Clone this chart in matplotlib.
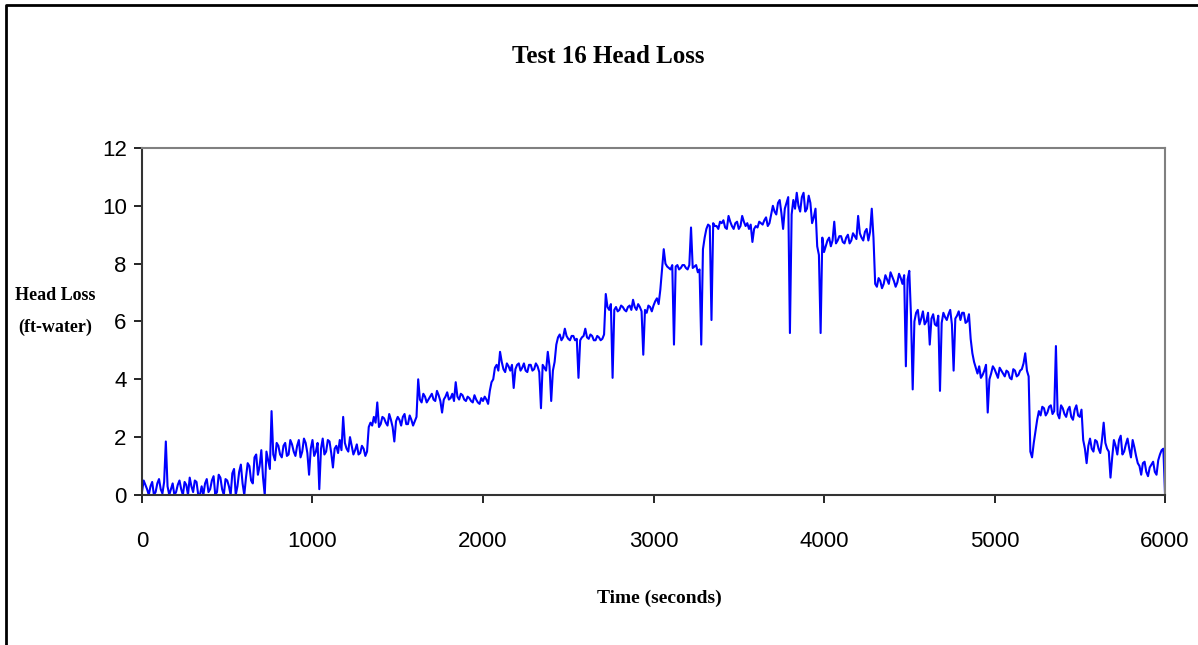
import matplotlib
matplotlib.use('Agg')
import matplotlib.pyplot as plt
import numpy as np

# head loss, samples on the even 20 s marks
head_loss = [
    0.1, 0.35, 0.0, 0.45, 0.1, 0.55, 0.05, 1.85, 0.0, 0.4,        # 0-180
    0.1, 0.5, 0.0, 0.35, 0.6, 0.1, 0.45, 0.0, 0.0, 0.55,          # 200-380
    0.2, 0.65, 0.1, 0.6, 0.0, 0.5, 0.0, 0.9, 0.3, 1.05,           # 400-580
    0.0, 1.1, 0.5, 1.3, 0.7, 1.55, 0.0, 1.2, 2.9, 1.2,            # 600-780
    1.7, 1.3, 1.8, 1.4, 1.75, 1.35, 1.9, 1.5, 1.8, 0.7,           # 800-980
    1.9, 1.5, 0.2, 1.95, 1.5, 1.85, 0.95, 1.7, 1.9, 2.7,          # 1000-1180
    1.6, 2.0, 1.4, 1.75, 1.45, 1.6, 1.5, 2.5, 2.7, 3.2,           # 1200-1380
    2.45, 2.65, 2.4, 2.6, 1.85, 2.7, 2.4, 2.8, 2.45, 2.6,         # 1400-1580
    2.55, 4.0, 3.2, 3.4, 3.3, 3.5, 3.25, 3.45, 2.85, 3.4,         # 1600-1780
    3.3, 3.5, 3.9, 3.3, 3.45, 3.25, 3.35, 3.2, 3.3, 3.15,         # 1800-1980
    3.25, 3.3, 3.6, 4.0, 4.5, 4.95, 4.35, 4.55, 4.3, 3.7,         # 2000-2180
    4.5, 4.3, 4.55, 4.25, 4.5, 4.35, 4.45, 3.0, 4.4, 4.95,        # 2200-2380
    3.25, 4.6, 5.45, 5.35, 5.75, 5.4, 5.5, 5.35, 4.05, 5.45,      # 2400-2580
    5.75, 5.4, 5.5, 5.35, 5.45, 5.4, 6.95, 6.4, 4.05, 6.5,        # 2600-2780
    6.4, 6.5, 6.35, 6.55, 6.75, 6.4, 6.5, 4.85, 6.3, 6.5,         # 2800-2980
    6.55, 6.8, 7.1, 8.5, 7.9, 7.8, 5.2, 7.95, 7.85, 7.95,         # 3000-3180
    7.8, 9.25, 7.9, 7.7, 5.2, 8.9, 9.35, 6.05, 9.3, 9.2,          # 3200-3380
    9.4, 9.25, 9.65, 9.3, 9.4, 9.2, 9.65, 9.3, 9.2, 8.75,         # 3400-3580
    9.3, 9.45, 9.35, 9.6, 9.4, 10.0, 9.7, 10.2, 9.2, 10.1,        # 3600-3780
    5.6, 10.2, 10.45, 9.8, 10.45, 9.9, 10.1, 9.6, 8.6, 5.6,       # 3800-3980
    8.4, 8.8, 8.6, 9.45, 8.8, 8.95, 8.7, 9.0, 8.8, 8.95,          # 4000-4180
    9.65, 8.9, 9.1, 8.8, 9.9, 7.3, 7.5, 7.15, 7.6, 7.3,           # 4200-4380
    7.55, 7.2, 7.65, 7.3, 4.45, 7.75, 3.65, 6.3, 5.9, 6.35,       # 4400-4580
    6.0, 5.2, 6.25, 5.85, 3.6, 6.3, 6.05, 6.4, 4.3, 6.2,          # 4600-4780
    6.05, 6.3, 6.0, 5.4, 4.6, 4.2, 4.05, 4.3, 2.85, 4.2,          # 4800-4980
    4.35, 4.05, 4.3, 4.1, 4.25, 4.0, 4.3, 4.15, 4.35, 4.9,        # 5000-5180
    4.1, 1.3, 2.2, 2.9, 3.05, 2.75, 3.05, 2.8, 5.15, 2.65,        # 5200-5380
    3.0, 2.7, 3.05, 2.6, 3.1, 2.7, 1.9, 1.1, 1.95, 1.5,           # 5400-5580
    1.85, 1.45, 2.5, 1.6, 0.6, 1.9, 1.4, 2.05, 1.5, 1.95,         # 5600-5780
    1.3, 1.65, 1.1, 0.7, 1.15, 0.65, 1.05, 0.8, 1.2, 1.55,        # 5800-5980
    0.0,                                                          # 6000
]

# samples in between, on the odd 10 s marks (10, 30, ... 5990)
head_loss_mid = [
    0.5, 0.2, 0.3, 0.0, 0.4, 0.2, 0.45, 0.3, 0.2, 0.0,            # 10-190
    0.35, 0.2, 0.45, 0.0, 0.3, 0.5, 0.0, 0.3, 0.4, 0.1,           # 210-390
    0.5, 0.0, 0.7, 0.2, 0.55, 0.3, 0.75, 0.0, 0.8, 0.4,           # 410-590
    0.6, 1.0, 0.4, 1.4, 1.0, 0.6, 1.5, 0.9, 1.4, 1.8,             # 610-790
    1.4, 1.7, 1.35, 1.9, 1.5, 1.7, 1.3, 1.95, 1.45, 1.6,          # 810-990
    1.35, 1.8, 1.6, 1.4, 1.9, 1.45, 1.6, 1.45, 1.55, 1.8,         # 1010-1190
    1.5, 1.7, 1.55, 1.4, 1.7, 1.35, 2.35, 2.4, 2.5, 2.35,         # 1210-1390
    2.7, 2.5, 2.8, 2.35, 2.55, 2.6, 2.7, 2.45, 2.75, 2.4,         # 1410-1590
    2.7, 3.3, 3.5, 3.2, 3.4, 3.3, 3.6, 3.25, 3.3, 3.55,           # 1610-1790
    3.35, 3.25, 3.4, 3.5, 3.3, 3.4, 3.25, 3.45, 3.2, 3.35,        # 1810-1990
    3.4, 3.15, 3.9, 4.4, 4.3, 4.6, 4.25, 4.45, 4.5, 4.35,         # 2010-2190
    4.55, 4.4, 4.3, 4.5, 4.3, 4.55, 4.25, 4.5, 4.3, 4.45,         # 2210-2390
    4.3, 5.2, 5.55, 5.45, 5.5, 5.35, 5.5, 5.4, 5.35, 5.5,         # 2410-2590
    5.45, 5.55, 5.35, 5.5, 5.35, 5.55, 6.5, 6.6, 6.4, 6.35,       # 2610-2790
    6.55, 6.4, 6.5, 6.4, 6.5, 6.6, 6.35, 6.4, 6.55, 6.35,         # 2810-2990
    6.7, 6.6, 7.8, 8.0, 7.85, 7.95, 7.9, 7.8, 7.95, 7.85,         # 3010-3190
    7.95, 7.85, 7.95, 7.8, 8.5, 9.2, 9.3, 9.4, 9.3, 9.45,         # 3210-3390
    9.5, 9.2, 9.45, 9.2, 9.45, 9.3, 9.45, 9.4, 9.35, 9.2,         # 3410-3590
    9.25, 9.4, 9.5, 9.3, 9.7, 9.8, 10.1, 9.75, 9.9, 10.3,         # 3610-3790
    9.7, 9.9, 10.0, 10.3, 9.8, 10.35, 9.4, 9.9, 8.3, 8.9,         # 3810-3990
    8.6, 8.9, 8.8, 8.7, 8.95, 8.75, 8.9, 8.7, 9.05, 8.85,         # 4010-4190
    9.05, 8.8, 9.2, 9.1, 8.9, 7.2, 7.4, 7.3, 7.45, 7.7,           # 4210-4390
    7.4, 7.35, 7.5, 7.6, 7.45, 6.2, 6.0, 6.4, 6.1, 5.9,           # 4410-4590
    6.3, 6.1, 5.9, 6.2, 5.95, 6.15, 6.25, 5.9, 6.1, 6.35,         # 4610-4790
    6.3, 5.95, 6.25, 4.9, 4.4, 4.45, 4.15, 4.5, 4.0, 4.45,        # 4810-4990
    4.2, 4.4, 4.2, 4.3, 4.05, 4.35, 4.1, 4.3, 4.55, 4.3,          # 5010-5190
    1.5, 1.8, 2.6, 2.75, 3.0, 2.85, 3.1, 2.9, 2.8, 3.1,           # 5210-5390
    2.8, 2.95, 2.7, 2.95, 2.75, 2.95, 1.6, 1.7, 1.6, 1.9,         # 5410-5590
    1.6, 1.9, 1.8, 1.5, 1.3, 1.7, 1.9, 1.4, 1.75, 1.6,            # 5610-5790
    1.9, 1.35, 1.0, 1.1, 0.8, 0.95, 1.15, 0.7, 1.4, 1.6,          # 5810-5990
]

time_s = np.arange(0, 6001, 10)
values = np.empty(len(time_s))
values[0::2] = head_loss
values[1::2] = head_loss_mid

x_ticks = [0, 1000, 2000, 3000, 4000, 5000, 6000]
y_ticks = [0, 2, 4, 6, 8, 10, 12]

fig = plt.figure(figsize=(11.98, 6.45), dpi=100)
ax = fig.add_axes([0.1185, 0.2326, 0.854, 0.538])

ax.plot(time_s, values, color='#0000FF', linewidth=1.5)

ax.set_xlim(0, 6000)
ax.set_ylim(0, 12)
ax.set_xticks(x_ticks)
ax.set_yticks(y_ticks)
ax.tick_params(direction='out', length=6, width=1.2, labelsize=16)
ax.tick_params(axis='x', pad=20)
ax.tick_params(axis='y', pad=5)
for lab in ax.get_xticklabels() + ax.get_yticklabels():
    lab.set_family('Liberation Sans')

ax.spines['top'].set_color('#808080')
ax.spines['right'].set_color('#808080')
ax.spines['left'].set_color('#333333')
ax.spines['bottom'].set_color('#333333')
for s in ax.spines.values():
    s.set_linewidth(1.5)

fig.text(0.5075, 0.913, 'Test 16 Head Loss', ha='center', va='center',
         fontsize=18, fontweight='bold', family='Liberation Serif')
fig.text(0.55, 0.073, 'Time (seconds)', ha='center', va='center',
         fontsize=14, fontweight='bold', family='Liberation Serif')
fig.text(0.046, 0.517, 'Head Loss\n(ft-water)', ha='center', va='center',
         fontsize=13, fontweight='bold', family='Liberation Serif',
         linespacing=2.1)

# outer chart border (left and top only)
fig.add_artist(plt.Line2D([0.005, 0.005, 1.0], [0.0, 0.992, 0.992],
                          transform=fig.transFigure, color='black', linewidth=2))

fig.savefig('out.png', dpi=100)
